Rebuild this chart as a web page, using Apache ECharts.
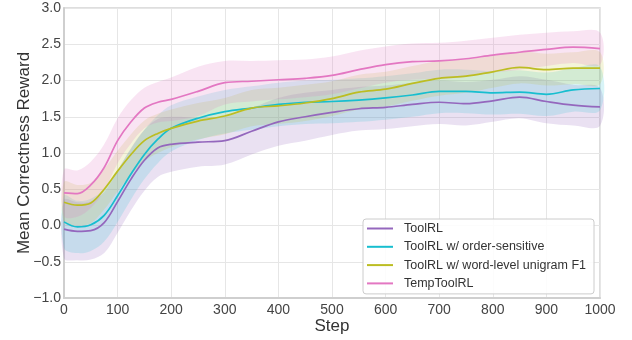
<!DOCTYPE html>
<html>
<head>
<meta charset="utf-8">
<script src="https://cdn.jsdelivr.net/npm/echarts@6/dist/echarts.min.js"></script>
<style>
    html, body { margin: 0; padding: 0; background: #fff; }
    #cn { width: 632px; height: 340px; }
</style>
</head>
<body>
<div id="cn"></div>
<script>
'use strict';

// training steps
const arrStep = [0, 25, 50, 75, 100, 125, 150, 175, 200, 250, 300, 350, 400, 450, 500, 550, 600, 650, 700, 750, 800, 850, 900, 950, 1000];

// mean curves
const arrToolRL = [-0.05, -0.08, -0.07, 0.04, 0.33, 0.64, 0.90, 1.07, 1.12, 1.15, 1.17, 1.30, 1.43, 1.50, 1.56, 1.61, 1.63, 1.67, 1.70, 1.68, 1.72, 1.77, 1.71, 1.66, 1.635];
const arrOrder = [0.05, -0.02, 0.01, 0.14, 0.41, 0.71, 0.98, 1.19, 1.34, 1.48, 1.57, 1.62, 1.67, 1.70, 1.71, 1.73, 1.76, 1.80, 1.85, 1.85, 1.83, 1.84, 1.81, 1.87, 1.89];
const arrWord = [0.32, 0.28, 0.31, 0.50, 0.75, 0.98, 1.17, 1.27, 1.34, 1.44, 1.51, 1.62, 1.65, 1.69, 1.75, 1.84, 1.88, 1.96, 2.03, 2.06, 2.12, 2.18, 2.15, 2.17, 2.17];
const arrTemp = [0.45, 0.44, 0.56, 0.80, 1.17, 1.43, 1.62, 1.70, 1.74, 1.85, 1.97, 1.99, 2.01, 2.03, 2.07, 2.15, 2.22, 2.26, 2.27, 2.30, 2.35, 2.39, 2.43, 2.46, 2.44];

// half width of shaded band
const arrSpreadToolRL = [0.40, 0.40, 0.40, 0.42, 0.43, 0.43, 0.42, 0.40, 0.38, 0.34, 0.33, 0.32, 0.33, 0.33, 0.31, 0.30, 0.30, 0.30, 0.30, 0.30, 0.29, 0.29, 0.30, 0.28, 0.26];
const arrSpreadOrder = [0.36, 0.36, 0.36, 0.36, 0.36, 0.35, 0.34, 0.33, 0.32, 0.30, 0.30, 0.30, 0.30, 0.30, 0.30, 0.30, 0.30, 0.30, 0.30, 0.30, 0.30, 0.30, 0.30, 0.30, 0.30];
const arrSpreadWord = [0.28, 0.28, 0.28, 0.28, 0.28, 0.28, 0.28, 0.27, 0.26, 0.25, 0.25, 0.25, 0.25, 0.25, 0.24, 0.24, 0.24, 0.24, 0.24, 0.23, 0.22, 0.22, 0.22, 0.22, 0.22];
const arrSpreadTemp = [0.32, 0.32, 0.32, 0.32, 0.31, 0.30, 0.28, 0.28, 0.30, 0.34, 0.30, 0.28, 0.27, 0.26, 0.26, 0.26, 0.25, 0.25, 0.25, 0.25, 0.24, 0.24, 0.23, 0.22, 0.22];

const arrName = ['ToolRL', 'ToolRL w/ order-sensitive', 'ToolRL w/ word-level unigram F1', 'TempToolRL'];

const arrLine = [
    { name: arrName[0], mean: arrToolRL, spread: arrSpreadToolRL, color: '#9467bd', band: 'rgba(148,103,189,0.2)' },
    { name: arrName[1], mean: arrOrder, spread: arrSpreadOrder, color: '#17becf', band: 'rgba(23,190,207,0.17)' },
    { name: arrName[2], mean: arrWord, spread: arrSpreadWord, color: '#bcbd22', band: 'rgba(188,189,34,0.17)' },
    { name: arrName[3], mean: arrTemp, spread: arrSpreadTemp, color: '#e377c2', band: 'rgba(227,119,194,0.2)' }
];

const strFont = '"Liberation Sans", Arial, sans-serif';
const fSmooth = 0.35;

let arrSeries = [];

// shaded bands: one polygon each (upper edge, then lower edge back)
arrLine.forEach((o, i) => {
    arrSeries.push({
        name: 'band' + i,
        type: 'custom',
        coordinateSystem: 'cartesian2d',
        silent: true,
        z: 1,
        data: [[0, 0]],
        renderItem: (params, api) => {
            const arrUp = arrStep.map((s, k) => api.coord([s, o.mean[k] + o.spread[k]]));
            const arrDn = arrStep.map((s, k) => api.coord([s, o.mean[k] - o.spread[k]])).reverse();
            return {
                type: 'polygon',
                shape: { points: arrUp.concat(arrDn), smooth: fSmooth },
                style: { fill: o.band }
            };
        }
    });
});

arrLine.forEach(o => {
    arrSeries.push({
        name: o.name,
        type: 'line',
        smooth: fSmooth,
        symbol: 'none',
        lineStyle: { color: o.color, width: 1.7 },
        itemStyle: { color: o.color },
        z: 3,
        data: arrStep.map((s, k) => [s, o.mean[k]])
    });
});

const chart = echarts.init(document.getElementById('cn'), null, { renderer: 'canvas' });

const option = {
    backgroundColor: '#fff',
    animation: false,
    textStyle: { fontFamily: strFont },
    grid: {
        left: 64,
        right: 32,
        top: 8,
        bottom: 39,
        show: true,
        borderColor: '#d4d4d4',
        borderWidth: 1.5
    },
    legend: {
        data: arrName,
        orient: 'vertical',
        left: 363,
        top: 219,
        width: 231,
        padding: [3, 8, 4, 4],
        icon: 'path://M0,0H26V2H0Z',
        itemWidth: 26,
        itemHeight: 14,
        itemGap: 5.3,
        backgroundColor: 'rgba(255,255,255,0.85)',
        borderColor: '#cccccc',
        borderWidth: 1,
        borderRadius: 3,
        textStyle: { fontFamily: strFont, fontSize: 12.5, color: '#333', padding: [0, 0, 0, 6] }
    },
    xAxis: {
        type: 'value',
        min: 0,
        max: 1000,
        interval: 100,
        name: 'Step',
        nameLocation: 'middle',
        nameGap: 20,
        nameMoveOverlap: false,
        nameTextStyle: { fontFamily: strFont, fontSize: 17, color: '#333' },
        axisLine: { show: true, onZero: false, lineStyle: { color: '#cfcfcf', width: 2 } },
        axisTick: { show: false },
        axisLabel: { fontFamily: strFont, fontSize: 14, color: '#444', margin: 5, formatter: v => String(v) },
        splitLine: { show: true, lineStyle: { color: '#e6e6e6', width: 1 } }
    },
    yAxis: {
        type: 'value',
        min: -1,
        max: 3,
        interval: 0.5,
        name: 'Mean Correctness Reward',
        nameLocation: 'middle',
        nameGap: 31,
        nameMoveOverlap: false,
        nameTextStyle: { fontFamily: strFont, fontSize: 17, color: '#333' },
        axisLine: { show: true, onZero: false, lineStyle: { color: '#cfcfcf', width: 2 } },
        axisTick: { show: false },
        axisLabel: {
            fontFamily: strFont,
            fontSize: 14,
            color: '#444',
            margin: 3,
            formatter: v => v.toFixed(1).replace('-', '\u2212')
        },
        splitLine: { show: true, lineStyle: { color: '#e6e6e6', width: 1 } }
    },
    series: arrSeries
};

chart.setOption(option);
</script>
</body>
</html>
